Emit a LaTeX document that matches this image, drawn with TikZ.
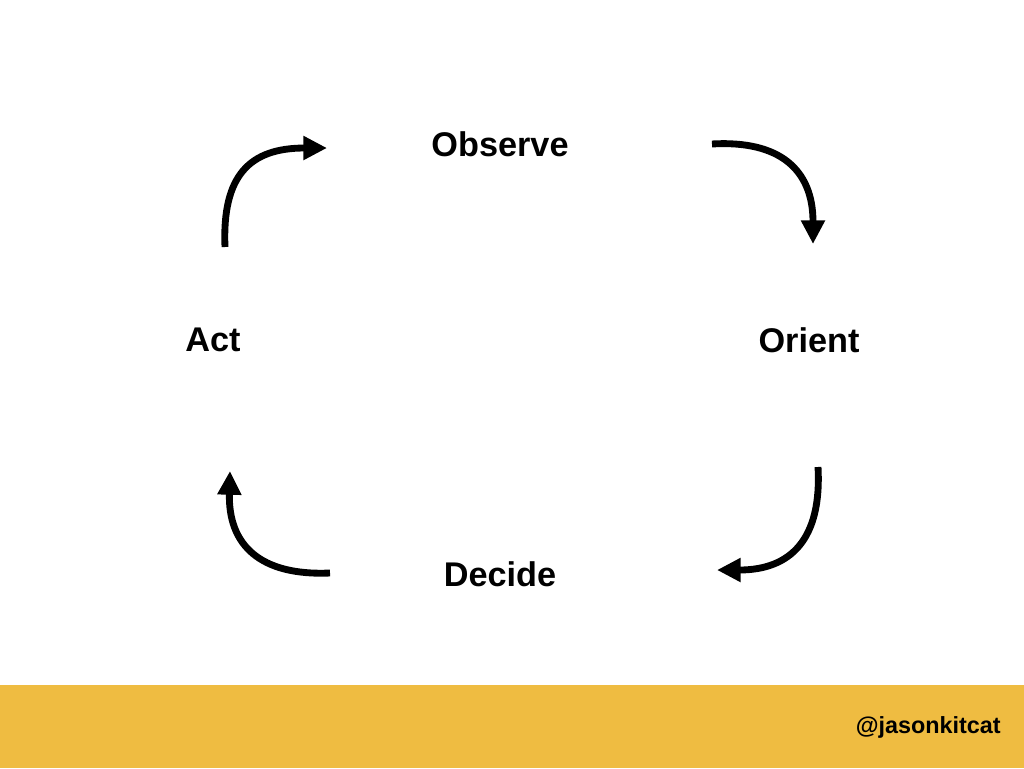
\documentclass[tikz,border=0pt]{standalone}
\usepackage{fontspec}
\setmainfont{Liberation Sans}
\usetikzlibrary{arrows.meta}
\definecolor{barcolor}{HTML}{EFBC41}

\tikzstyle{phase} = [font=\fontsize{19.5}{22}\selectfont\bfseries, inner sep=0pt]
\tikzstyle{arrow} = [line width=3.9pt, -{Triangle[length=13.5pt, width=13pt]}]

\begin{document}
\begin{tikzpicture}[x=0.02cm, y=-0.02cm]

\useasboundingbox (0,0) rectangle (1024,768);
\fill[white] (0,0) rectangle (1024,768);
\fill[barcolor] (0,685) rectangle (1024,768);

\node (obs) [phase] at (500,144) {Observe};
\node (ori) [phase] at (809,340) {Orient};
\node (dec) [phase] at (500,574) {Decide};
\node (act) [phase] at (213,340) {Act};
\node (handle) [font=\fontsize{13.3}{15}\selectfont\bfseries, anchor=base east, inner sep=0pt] at (1001,733) {@jasonkitcat};

% ends of the curved arrows
\coordinate (a1s) at (225,247);
\coordinate (a1e) at (327,148);
\coordinate (a2s) at (712,144);
\coordinate (a2e) at (813,244);
\coordinate (a3s) at (818,467);
\coordinate (a3e) at (717,570);
\coordinate (a4s) at (330,573);
\coordinate (a4e) at (230,471);

\draw [arrow] (a1s) .. controls (222,175) and (250,148) .. (a1e);
\draw [arrow] (a2s) .. controls (780,140) and (813,170) .. (a2e);
\draw [arrow] (a3s) .. controls (822,540) and (790,570) .. (a3e);
\draw [arrow] (a4s) .. controls (260,576) and (228,545) .. (a4e);

\end{tikzpicture}
\end{document}
